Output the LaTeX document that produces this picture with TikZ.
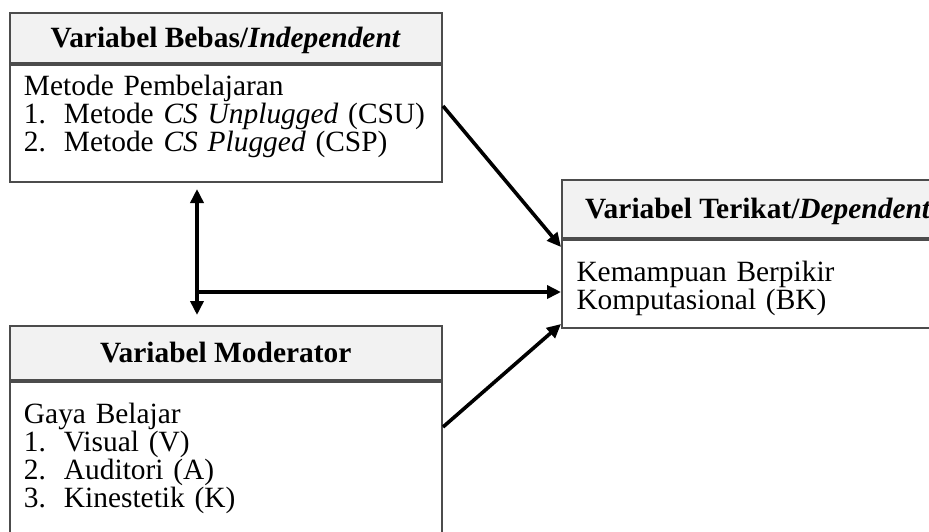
\documentclass[tikz,border=0pt]{standalone}
\usepackage{fontspec}
\setmainfont{Liberation Serif}
\usetikzlibrary{arrows.meta}
\newcommand{\itm}[1]{\makebox[20pt][l]{#1}}
\begin{document}
\begin{tikzpicture}[x=0.5pt,y=-0.5pt,
    >={Triangle[length=7pt,width=6.5pt]},
    box/.style={draw=black!70,line width=1pt,rectangle,inner ysep=0pt,
      font=\fontsize{14.7pt}{14.1pt}\selectfont},
    head/.style={box,fill=black!5,inner xsep=0pt,text height=9.7pt,
      text depth=0pt,anchor=north west},
    body/.style={box,align=left,inner xsep=7.25pt,anchor=north west},
    conn/.style={line width=1.8pt}]
    \useasboundingbox (0,0) rectangle (929,531);
    \node [head,minimum width=216.25pt,minimum height=25pt] (Bebas_h) at (8.5,12)
      {\textbf{Variabel Bebas/\textit{Independent}}};
    \node [body,text width=201.75pt,text height=15pt,text depth=43.5pt] (Bebas_b)
      at (Bebas_h.south west)
      {Metode Pembelajaran\\
       \itm{1.}Metode \textit{CS Unplugged} (CSU)\\
       \itm{2.}Metode \textit{CS Plugged} (CSP)};
    \node [head,minimum width=196pt,minimum height=29pt] (Terikat_h) at (561,179)
      {\textbf{Variabel Terikat/\textit{Dependent}}};
    \node [body,text width=181.5pt,text height=20.5pt,text depth=23.5pt] (Terikat_b)
      at (Terikat_h.south west)
      {Kemampuan Berpikir\\ Komputasional (BK)};
    \node [head,minimum width=216.25pt,minimum height=27pt] (Mod_h) at (8.5,325)
      {\textbf{Variabel Moderator}};
    \node [body,text width=201.75pt,text height=20.5pt,text depth=62.5pt] (Mod_b)
      at (Mod_h.south west)
      {Gaya Belajar\\
       \itm{1.}Visual (V)\\
       \itm{2.}Auditori (A)\\
       \itm{3.}Kinestetik (K)};
    \coordinate (J) at (197,292);
    \path ([xshift=94.25pt]Bebas_b.south west) edge [conn,<->,shorten <=3pt,shorten >=5pt]
      ([xshift=94.25pt]Mod_h.north west);
    \path (J) edge [conn,->] (J -| Terikat_b.west);
    \path ([yshift=8.75pt]Bebas_b.east) edge [conn,->] ([yshift=18.5pt]Terikat_b.west);
    \path ([yshift=-23pt]Mod_b.north east) edge [conn,->] ([yshift=2.5pt]Terikat_b.south west);
  \end{tikzpicture}
\end{document}
